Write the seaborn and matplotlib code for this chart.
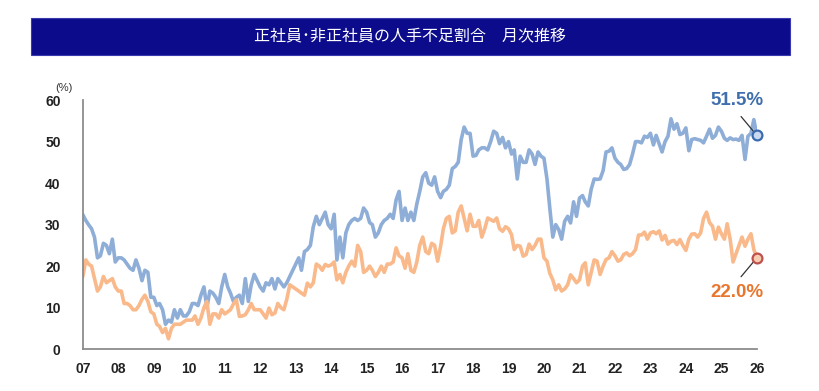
import matplotlib
matplotlib.use("Agg")
import matplotlib.pyplot as plt
from matplotlib.patches import Rectangle
import numpy as np
import pandas as pd
import seaborn as sns

# monthly shortage ratio (%), Jan 2007 .. Jan 2026
start_month = "2007-01-01"
regular = [
    32.4, 31, 30, 29, 27, 22, 22.5, 25.5, 25, 23, 26.5, 21,            # 2007
    22, 22, 21.5, 20.5, 19.5, 19, 21.5, 19.5, 16.5, 19, 18.5, 12.5,    # 2008
    12.5, 10.5, 11, 9.5, 6, 7, 6.5, 9.5, 7.5, 9.5, 8, 8,               # 2009
    9, 11, 11, 10.5, 13, 15, 10, 14, 13.5, 12.5, 11, 15,               # 2010
    18, 15, 13.5, 11.5, 12.5, 13, 11, 17, 11.5, 15.5, 18, 16.5,        # 2011
    15, 14, 16, 15.5, 17, 14.5, 17, 16, 15, 16, 17.5, 19,              # 2012
    20.5, 22, 19, 23.5, 24, 25, 29.5, 32, 30, 31.5, 33, 30,            # 2013
    29, 32.5, 21.5, 27, 22, 28, 30, 31, 31.5, 31, 31.5, 34,            # 2014
    33, 30.5, 30, 27, 28, 30, 31, 31.5, 32.5, 31.5, 36, 38,            # 2015
    31, 34, 31, 33, 31, 35, 38, 41.5, 42.5, 40, 39.5, 41.5,            # 2016
    38, 36.5, 38, 38.5, 39.5, 43.5, 44, 45, 50.5, 53.5, 52, 52,        # 2017
    46.5, 46.7, 48, 48.5, 48.5, 48, 50, 52.5, 52, 49.5, 51, 48.5,      # 2018
    50, 47, 48, 41, 46.5, 45, 45, 48, 47, 44.5, 47.5, 46.5,            # 2019
    46, 41, 34, 27, 30, 28.8, 26.5, 30.8, 32, 30.4, 35.5, 32,          # 2020
    36.4, 37, 35.5, 34.5, 38.5, 41, 40.9, 41, 43, 47.5, 47.7, 48.5,    # 2021
    46, 45, 44.5, 43.3, 43.5, 44.5, 47, 50, 50, 49.7, 51.3, 51,        # 2022
    52, 49.2, 51.5, 49.5, 47.5, 50, 51.3, 55.5, 53, 54.3, 51.7, 52,    # 2023
    53.3, 47.8, 50.5, 50.7, 50.5, 50.3, 49.7, 51.3, 53, 50.8, 51.5, 53.5,  # 2024
    52.5, 50.8, 50.3, 50.9, 50.5, 50.6, 50.3, 51.5, 45.7, 51.3, 52, 55.3,  # 2025
    51.5,                                                              # 2026
]
non_regular = [
    17.5, 21.5, 20.5, 20, 17, 14, 15, 17.5, 16, 16.5, 17, 15,          # 2007
    14, 14, 11, 11, 10.5, 9.5, 9.5, 10.5, 12, 13, 11.5, 9,             # 2008
    8.5, 6, 5.5, 4, 5, 2.5, 5, 6, 6, 6, 6.5, 7,                        # 2009
    7, 7, 8, 6, 7.5, 10, 11.5, 6, 8.5, 8.5, 7.5, 9.5,                  # 2010
    8.5, 9, 9.5, 10.9, 11.9, 7.9, 8, 8.3, 9.5, 11, 9.5, 9.5,           # 2011
    9.5, 8.5, 7.5, 9.9, 8.3, 8.7, 11, 10, 9.5, 12, 15.5, 15,           # 2012
    14.5, 14, 13.5, 13, 15.9, 15, 16, 20.5, 20, 19, 20.4, 20,          # 2013
    20.3, 21, 16.7, 18, 16, 18.5, 20, 21.2, 20, 25, 23.5, 18.5,        # 2014
    19, 20, 19, 17.5, 18.5, 20, 18.5, 20.5, 20.5, 21, 24.4, 22.5,      # 2015
    22, 19.5, 23, 19, 18.5, 21, 25, 27, 23.5, 23, 25.5, 25,            # 2016
    21.2, 24.8, 29, 31.5, 32, 28, 28.5, 33, 34.5, 31.5, 28.5, 32.5,    # 2017
    29.6, 29.6, 31, 27, 29, 31.6, 31.2, 30.8, 31.6, 29, 28.4, 29.5,    # 2018
    29, 27.6, 24, 25, 24.8, 22.4, 22.8, 25.3, 24, 25, 26.5, 26.5,      # 2019
    22, 21.2, 18.3, 16.7, 14.3, 15.5, 14, 14.5, 15.5, 17.9, 17, 16,    # 2020
    16.7, 20, 20.8, 15.5, 18.5, 21.5, 21.2, 18, 20, 21.6, 22, 23.5,    # 2021
    22.5, 21.2, 21.5, 22.8, 23.2, 22.5, 23, 24, 27.5, 27.5, 28.2, 26.5,  # 2022
    28, 28.3, 27.8, 28.5, 26.3, 27.4, 25.3, 26, 26.2, 25.2, 26.4, 25,  # 2023
    23.8, 26.5, 27.7, 27.8, 27, 28, 31.5, 33, 30.5, 29.6, 26.5, 29.4,  # 2024
    27.8, 26.5, 30.2, 26.5, 21, 23, 25, 27, 24.8, 26.5, 27.8, 24,      # 2025
    22.0,                                                              # 2026
]
series_names = ["正社員", "非正社員"]
year_labels = ["%02d" % (y % 100) for y in range(2007, 2027)]
title = "正社員･非正社員の人手不足割合　月次推移"

dates = pd.date_range(start_month, periods=len(regular), freq="MS")
df = pd.concat([
    pd.DataFrame({"date": dates, "value": regular, "kind": series_names[0]}),
    pd.DataFrame({"date": dates, "value": non_regular, "kind": series_names[1]}),
])

sns.set_style("white")
plt.rcParams["font.family"] = ["Liberation Sans", "Noto Sans CJK JP", "DejaVu Sans"]

line_colors = {series_names[0]: "#8eaed8", series_names[1]: "#f9b98a"}

fig = plt.figure(figsize=(8.2, 3.91), dpi=100)
ax = fig.add_axes([0.101, 0.107, 0.822, 0.637])

sns.lineplot(data=df, x="date", y="value", hue="kind", palette=line_colors,
             linewidth=2.6, legend=False, ax=ax)

ax.set_ylim(0, 60)
ax.set_xlim(dates[0], pd.Timestamp("2026-01-01"))
ax.set_yticks(np.arange(0, 61, 10))
ticks = pd.date_range("2007-01-01", "2026-01-01", freq="YS")
ax.set_xticks(ticks)
ax.set_xticklabels(year_labels)
ax.set_xlabel("")
ax.set_ylabel("")
ax.tick_params(axis="y", length=0, pad=16, labelsize=10, labelcolor="#222222")
ax.tick_params(axis="x", length=0, pad=9, labelsize=10, labelcolor="#222222")
for lab in ax.get_xticklabels() + ax.get_yticklabels():
    lab.set_fontweight("bold")

for side in ["top", "right"]:
    ax.spines[side].set_visible(False)
for side in ["left", "bottom"]:
    ax.spines[side].set_color("#8c8c8c")
    ax.spines[side].set_linewidth(1.3)

# end-point markers and labels
last_date = dates[-1]
ax.scatter([last_date], [regular[-1]], s=50, facecolor="#c9d9ef",
           edgecolor="#3a6bb0", linewidth=1.6, zorder=5, clip_on=False)
ax.scatter([last_date], [non_regular[-1]], s=50, facecolor="#f6cdb0",
           edgecolor="#c0504d", linewidth=1.6, zorder=5, clip_on=False)

ax.annotate("%.1f%%" % regular[-1], xy=(last_date, regular[-1]),
            xytext=(-14, 19), textcoords="offset points", ha="center", va="bottom",
            fontsize=13.5, fontweight="bold", color="#3f6fae",
            arrowprops=dict(arrowstyle="-", color="#333333", lw=0.9,
                            shrinkA=4, shrinkB=0, relpos=(0.45, 0.0)))
ax.annotate("%.1f%%" % non_regular[-1], xy=(last_date, non_regular[-1]),
            xytext=(-14, -19), textcoords="offset points", ha="center", va="top",
            fontsize=13.5, fontweight="bold", color="#e8772e",
            arrowprops=dict(arrowstyle="-", color="#333333", lw=0.9,
                            shrinkA=4, shrinkB=0, relpos=(0.45, 1.0)))

fig.text(0.078, 0.775, "(%)", fontsize=8, color="#333333", ha="center", va="center")

# title banner
fig.patches.append(Rectangle((0.0384, 0.8606), 0.925, 0.0934, transform=fig.transFigure,
                             facecolor="#0b0b8c", edgecolor="#3a3ab0", linewidth=0.8))
fig.text(0.5006, 0.9066, title, color="white", fontsize=11.5, ha="center", va="center",
         family=["Noto Sans CJK JP", "DejaVu Sans"])

fig.savefig("out.png", dpi=100, facecolor="white")
